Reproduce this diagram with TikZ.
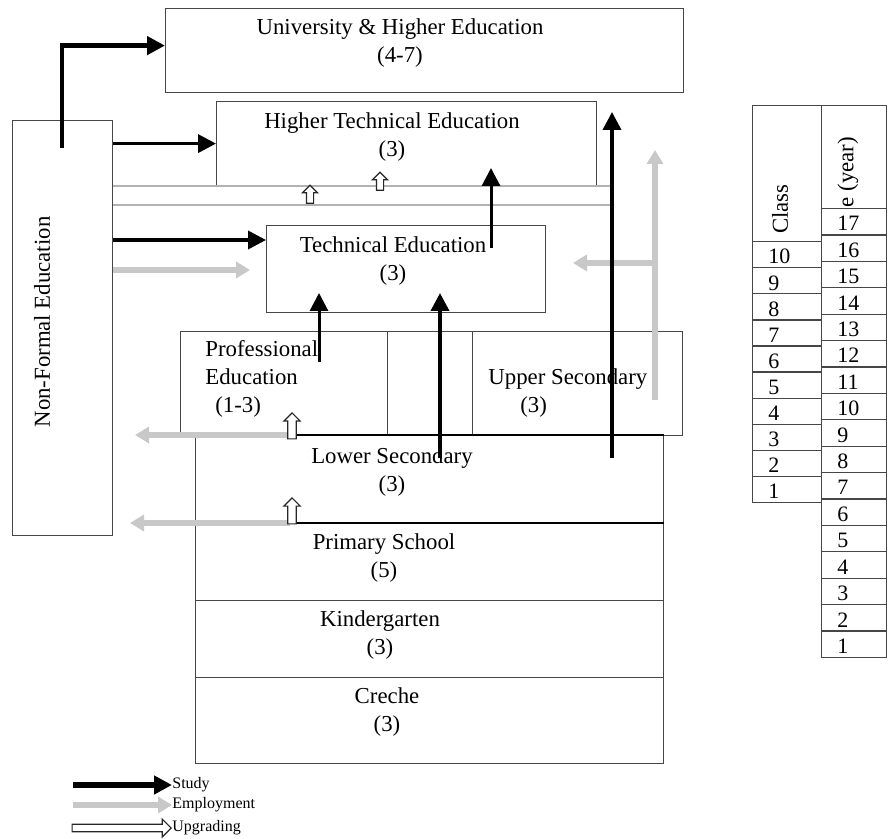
\documentclass[tikz,border=0pt]{standalone}
\usepackage{fontspec}
\setmainfont{Liberation Serif}
\usetikzlibrary{arrows.meta,positioning,shapes.arrows}
\definecolor{boxline}{RGB}{70,70,70}
\definecolor{employgrey}{RGB}{200,200,200}

\tikzset{
  box/.style={draw=boxline, line width=0.6pt, anchor=north west, inner sep=0pt},
  lbl/.style={font=\fontsize{11.4}{14}\selectfont, align=center, inner sep=0pt},
  cell/.style={draw=boxline, line width=0.6pt, anchor=north west, inner sep=0pt, minimum height=13.1pt},
  num/.style={font=\fontsize{11}{13}\selectfont, inner sep=0pt, anchor=base west},
  study/.style={line width=1.8pt, -{Triangle[length=9pt,width=9pt]}},
  employ/.style={draw=employgrey, line width=2.6pt, -{Triangle[length=7pt,width=8pt]}},
  thingrey/.style={draw=black!30, line width=0.8pt},
  upgrade/.style={single arrow, draw=black!85, fill=white, line width=0.6pt, inner sep=1.8pt,
    single arrow head extend=2pt, single arrow head indent=0pt, minimum height=13pt, rotate=90},
  legtext/.style={font=\fontsize{8}{9}\selectfont, inner sep=0pt, anchor=west}
}

\begin{document}
\begin{tikzpicture}[x=0.5pt, y=-0.5pt]
\useasboundingbox (0,0) rectangle (889,839);
% Boxes
\node[box, minimum width=259pt, minimum height=42pt] (uni) at (165,8) {};
\node[box, minimum width=190pt, minimum height=42pt] (htech) at (216,101) {};
\node[box, minimum width=50pt, minimum height=207.5pt] (nfe) at (12,120) {};
\node[box, minimum width=139.5pt, minimum height=43.5pt] (tech) at (266,225) {};
\node[box, minimum width=103.5pt, minimum height=52pt] (prof) at (180,331) {};
\node[box, minimum width=42.5pt, minimum height=52pt] (mid) at (387,331) {};
\node[box, minimum width=105pt, minimum height=52pt] (usec) at (472,331) {};
\node[box, minimum width=234pt, minimum height=44pt] (lsec) at (195,435) {};
\node[box, minimum width=234pt, minimum height=38.5pt] (prim) at (195,523) {};
\node[box, minimum width=234pt, minimum height=38.5pt] (kind) at (195,600) {};
\node[box, minimum width=234pt, minimum height=43pt] (creche) at (195,677) {};
% Labels
\node[lbl] (unitxt) at (400,43) {University \& Higher Education\\(4-7)};
\node[lbl] (htechtxt) at (392,137) {Higher Technical Education\\(3)};
\node[lbl] (techtxt) at (393,261) {Technical Education\\(3)};
\node[lbl, align=left, anchor=west] (proftxt) at (205,379) {Professional\\Education\\\hspace{5pt}(1-3)};
\node[lbl, align=left, anchor=west] (usectxt) at (488,393) {Upper Secondary\\\hspace{16pt}(3)};
\node[lbl] (lsectxt) at (392,472) {Lower Secondary\\(3)};
\node[lbl] (primtxt) at (384,558) {Primary School\\(5)};
\node[lbl] (kindtxt) at (380,635) {Kindergarten\\(3)};
\node[lbl] (crechetxt) at (387,712) {Creche\\(3)};
\node[lbl, rotate=90] (nfetxt) at (42,322) {Non-Formal Education};
% Employment
\coordinate (e1) at (250,270);
\coordinate (e2a) at (655,400);
\coordinate (e2b) at (655,150);
\coordinate (e3a) at (655,263);
\coordinate (e3b) at (573,263);
\coordinate (e4a) at (290,435);
\coordinate (e4b) at (135,435);
\coordinate (e5a) at (290,523);
\coordinate (e5b) at (130,523);
\draw[employ] (nfe.east |- e1) -- (e1);
\draw[employ] (e2a) -- (e2b);
\draw[employ] (e3a) -- (e3b);
\draw[employ] (e4a) -- (e4b);
\draw[employ] (e5a) -- (e5b);
\draw[thingrey] (nfe.east |- 0,186) -- (612,186);
\draw[thingrey] (nfe.east |- 0,205) -- (612,205);
% Study
\coordinate (nfeup) at (62,148);
\coordinate (s3) at (266,240);
\coordinate (p1) at (319,362);
\coordinate (p2) at (319,293);
\coordinate (l1) at (440,458);
\coordinate (l2) at (440,293);
\coordinate (t1) at (491,248);
\coordinate (t2) at (491,168);
\coordinate (u1) at (612,458);
\coordinate (u2) at (612,112);
\draw[study, line width=2.4pt] (nfeup) |- ([yshift=2.5pt]uni.west);
\draw[study] (nfe.east |- htech.west) -- (htech.west);
\draw[study] (nfe.east |- s3) -- (s3);
\draw[study, line width=1.5pt] (p1) -- (p2);
\draw[study] (l1) -- (l2);
\draw[study, line width=1.5pt] (t1) -- (t2);
\draw[study] (u1) -- (u2);
\draw[line width=1.4pt] (e4a) -- (e4a -| lsec.east);
\draw[line width=1.4pt] (e5a) -- (e5a -| lsec.east);
% Upgrading
\node[upgrade] (up1) at (292,428) {};
\node[upgrade] (up2) at (292,513) {};
\node[upgrade, minimum height=9pt, inner sep=1.5pt] (up3) at (310,196) {};
\node[upgrade, minimum height=9pt, inner sep=1.5pt] (up4) at (380,183) {};
% Class / age table
\node[cell, minimum width=34.5pt, minimum height=68pt] (clshead) at (752,105) {};
\node[lbl, rotate=90] at (780,209) {Class};
\foreach \k in {0,...,9} {
  \pgfmathtruncatemacro\v{10-\k}
  \node[cell, minimum width=34.5pt] (cls\v) at (752,{241+26.1*\k}) {};
  \node[num] at (768,{241+26.1*\k+23}) {\v};
}
\node[cell, minimum width=32.5pt, minimum height=51.5pt] (agehead) at (821,105) {};
\node[lbl, rotate=90] at (848,172) {e (year)};
\foreach \k in {0,...,16} {
  \pgfmathtruncatemacro\v{17-\k}
  \node[cell, minimum width=32.5pt, minimum height=13.2pt] (age\v) at (821,{208+26.4*\k}) {};
  \node[num] at (837,{208+26.4*\k+23}) {\v};
}
% Legend
\node[legtext] (lstudy) at (172,785) {Study};
\node[legtext] (lemploy) at (172,805) {Employment};
\node[legtext] (lupgrade) at (172,828) {Upgrading};
\coordinate (ls) at (73,785);
\coordinate (le) at (73,805);
\draw[study, line width=2.6pt] (ls) -- (lstudy.west);
\draw[employ] (le) -- (lemploy.west);
\node[single arrow, draw=black!85, fill=white, line width=0.6pt, inner sep=1.6pt,
  single arrow head extend=2.5pt, single arrow head indent=0pt, minimum height=49.5pt,
  anchor=east] (lup) at (lupgrade.west) {};
\end{tikzpicture}
\end{document}
